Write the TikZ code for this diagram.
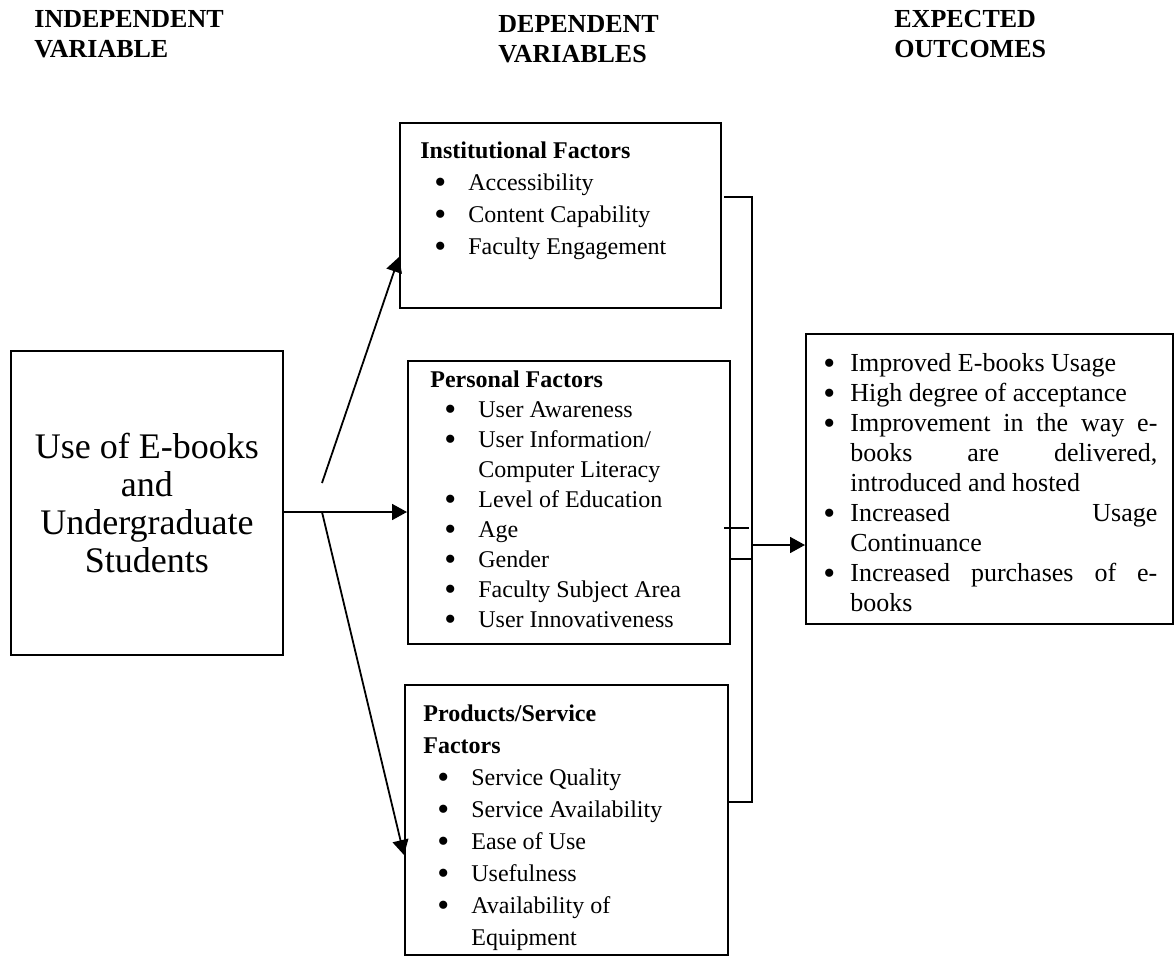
\documentclass[tikz,border=0pt]{standalone}
\usepackage{fontspec}
\setmainfont{Liberation Serif}
\usetikzlibrary{arrows.meta,positioning,calc}

\newcommand{\bul}{\smash{\raisebox{-1.7pt}{\fontsize{17}{12}\selectfont\textbullet}}}
\newcommand{\itm}[1]{\makebox[24pt][l]{\hspace{7pt}\bul}#1}
\newcommand{\itmcont}[1]{\hspace*{24pt}#1}
\newcommand{\obul}{\par\hangindent=12.5pt\hangafter=1\noindent\makebox[12.5pt][l]{\hspace{-1pt}\bul}}

\begin{document}
\begin{tikzpicture}[
    x=0.5pt, y=-0.5pt,
    box/.style 2 args={draw, line width=0.9pt, anchor=north west, inner sep=0pt, minimum width=#1, minimum height=#2},
    head/.style={anchor=north west, inner sep=0pt, align=left, font=\fontsize{13}{15}\selectfont\bfseries},
    list/.style={anchor=north west, inner sep=0pt, align=left, font=\fontsize{12}{16}\selectfont},
    wire/.style={line width=0.9pt},
    arr/.style={line width=0.9pt, -{Triangle[length=7.5pt,width=8pt]}}
  ]
  \useasboundingbox (0,0) rectangle (1175,958);

  % column heads
  \node[head] (hind) at (34,10) {INDEPENDENT\\VARIABLE};
  \node[head] (hdep) at (498,15) {DEPENDENT\\VARIABLES};
  \node[head] (hexp) at (894,10) {EXPECTED\\OUTCOMES};

  % boxes
  \node[box={136pt}{152pt}, align=center, font=\fontsize{18}{19}\selectfont] (lb) at (10,350) {Use of E-books\\and\\Undergraduate\\Students};
  \node[box={160.5pt}{92.5pt}] (inst) at (399,122) {};
  \node[box={161pt}{141.5pt}] (pf) at (407,360) {};
  \node[box={161.5pt}{135pt}] (prod) at (404,684) {};
  \node[box={183.5pt}{145pt}] (out) at (805,333) {};

  \node[list, below right=9.5pt and 10.5pt of inst.north west] (insttxt) {%
    \textbf{Institutional Factors}\\
    \itm{Accessibility}\\
    \itm{Content Capability}\\
    \itm{Faculty Engagement}};
  \node[list, font=\fontsize{12}{15}\selectfont, below right=5pt and 11.5pt of pf.north west] (pftxt) {%
    \textbf{Personal Factors}\\
    \itm{User Awareness}\\
    \itm{User Information/}\\
    \itmcont{Computer Literacy}\\
    \itm{Level of Education}\\
    \itm{Age}\\
    \itm{Gender}\\
    \itm{Faculty Subject Area}\\
    \itm{User Innovativeness}};
  \node[list, below right=10pt and 9.5pt of prod.north west] (prodtxt) {%
    \textbf{Products/Service}\\
    \textbf{Factors}\\
    \itm{Service Quality}\\
    \itm{Service Availability}\\
    \itm{Ease of Use}\\
    \itm{Usefulness}\\
    \itm{Availability of}\\
    \itmcont{Equipment}};
  \node[anchor=north west, inner sep=0pt, text width=166pt, align=justify, font=\fontsize{13}{15}\selectfont,
        below right=4pt and 10pt of out.north west] (outtxt) {%
    \obul Improved E-books Usage
    \obul High degree of acceptance
    \obul Improvement in the way e-\linebreak books are delivered,\linebreak introduced and hosted
    \obul Increased Usage\linebreak Continuance
    \obul Increased purchases of e-\linebreak books\par};

  % connectors
  \coordinate (split) at (322,483);
  \coordinate (fork) at (322,512);
  \coordinate (bar) at (752,197);
  \draw[arr] (lb.east |- fork) -- (pf.west |- fork);
  \draw[arr] (split) -- (inst.west |- 0,257);
  \draw[arr] (fork) -- (prod.west |- 0,855);
  \draw[wire] (724,197) -- (bar) -- (bar |- 0,802) -- (prod.east |- 0,802);
  \draw[wire] (pf.east |- 0,559) -- (bar |- 0,559);
  \draw[wire] (724,528) -- (749,528);
  \draw[arr] (bar |- 0,545) -- (out.west |- 0,545);
\end{tikzpicture}
\end{document}
